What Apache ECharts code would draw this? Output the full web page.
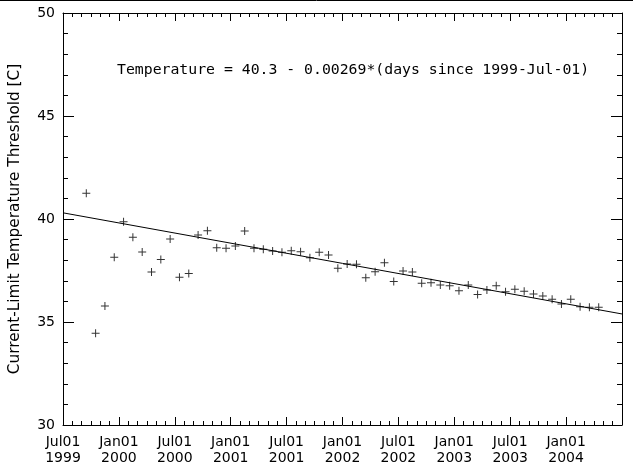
<!DOCTYPE html>
<html><head><meta charset="utf-8">
<script src="https://cdn.jsdelivr.net/npm/echarts@6/dist/echarts.min.js"></script>
<style>html,body{margin:0;padding:0;background:#fff}#c{width:633px;height:473px}</style>
</head><body><div id="c"></div>
<script>
// Monthly samples (mid-month)
const months = [
 '1999-09','1999-10','1999-11','1999-12',
 '2000-01','2000-02','2000-03','2000-04','2000-05','2000-06','2000-07','2000-08','2000-09','2000-10','2000-11','2000-12',
 '2001-01','2001-02','2001-03','2001-04','2001-05','2001-06','2001-07','2001-08','2001-09','2001-10','2001-11','2001-12',
 '2002-01','2002-02','2002-03','2002-04','2002-05','2002-06','2002-07','2002-08','2002-09','2002-10','2002-11','2002-12',
 '2003-01','2003-02','2003-03','2003-04','2003-05','2003-06','2003-07','2003-08','2003-09','2003-10','2003-11','2003-12',
 '2004-01','2004-02','2004-03','2004-04'
];
const temps = [
 41.25,34.45,35.78,38.14,
 39.87,39.11,38.40,37.43,38.04,39.03,37.17,37.36,39.22,39.43,38.61,38.58,
 38.69,39.42,38.58,38.53,38.45,38.38,38.46,38.41,38.12,38.38,38.25,37.61,
 37.82,37.80,37.15,37.44,37.88,36.96,37.48,37.43,36.88,36.91,36.80,36.76,
 36.52,36.80,36.34,36.55,36.76,36.47,36.59,36.49,36.36,36.26,36.10,35.87,
 36.10,35.74,35.71,35.71
];
// Fit line end points (axis start 1999-Jul-01 and end 2004-Jul-01)
const fitMonths = ['1999-07-01','2004-07-01'];
const fitValues = [40.30, 35.39];
const xTickLabels = ['Jul01\n1999','Jan01\n2000','Jul01\n2000','Jan01\n2001','Jul01\n2001','Jan01\n2002','Jul01\n2002','Jan01\n2003','Jul01\n2003','Jan01\n2004'];
const yTicks = [30, 35, 40, 45, 50];
const yTitle = 'Current-Limit Temperature Threshold [C]';
const equation = 'Temperature = 40.3 - 0.00269*(days since 1999-Jul-01)';

function monthOffset(s, mid) {
  const p = s.split('-').map(Number);
  const base = (p[0] - 1999) * 12 + (p[1] - 7);
  return mid ? base + 0.5 : base + (p[2] - 1) / 30.44;
}
const scatterData = months.map((m, i) => [monthOffset(m, true), temps[i]]);
const fitData = fitMonths.map((m, i) => [monthOffset(m, false), fitValues[i]]);

const FONT = 'DejaVu Sans';
const plus = 'path://M3.5,0H4.5V3.5H8V4.5H4.5V8H3.5V4.5H0V3.5H3.5Z';
const axisBase = {
  axisLine: {show: true, onZero: false, lineStyle: {color: '#000', width: 1}},
  splitLine: {show: false}, minorSplitLine: {show: false}
};
const chart = echarts.init(document.getElementById('c'), null, {renderer: 'canvas'});
chart.setOption({
  animation: false,
  backgroundColor: '#fff',
  grid: {left: 62, right: 11, top: 13, bottom: 48, containLabel: false},
  xAxis: [
    Object.assign({}, axisBase, {
      type: 'value', position: 'bottom', min: 0, max: 60, interval: 6,
      axisTick: {show: true, inside: true, length: 8, lineStyle: {color: '#000'}},
      minorTick: {show: true, splitNumber: 6, length: 4, lineStyle: {color: '#000'}},
      axisLabel: {show: true, margin: 9, color: '#000', fontFamily: FONT, fontSize: 14, lineHeight: 16,
        showMaxLabel: false, showMinLabel: true,
        formatter: v => { const k = Math.round(v / 6); return xTickLabels[k] !== undefined ? xTickLabels[k] : ''; }}
    }),
    Object.assign({}, axisBase, {
      type: 'value', position: 'top', min: 0, max: 60, interval: 6,
      axisTick: {show: true, inside: true, length: 8, lineStyle: {color: '#000'}},
      minorTick: {show: true, splitNumber: 6, length: 4, lineStyle: {color: '#000'}},
      axisLabel: {show: false}
    })
  ],
  yAxis: [
    Object.assign({}, axisBase, {
      type: 'value', position: 'left', min: yTicks[0], max: yTicks[yTicks.length - 1], interval: 5,
      axisTick: {show: true, inside: true, length: 11, lineStyle: {color: '#000'}},
      minorTick: {show: true, splitNumber: 5, length: 5, lineStyle: {color: '#000'}},
      axisLabel: {show: true, margin: 8, color: '#000', fontFamily: FONT, fontSize: 14},
      name: yTitle, nameLocation: 'middle', nameGap: 40, nameRotate: 90,
      nameTextStyle: {color: '#000', fontFamily: FONT, fontSize: 15.3}
    }),
    Object.assign({}, axisBase, {
      type: 'value', position: 'right', min: yTicks[0], max: yTicks[yTicks.length - 1], interval: 5,
      axisTick: {show: true, inside: true, length: 11, lineStyle: {color: '#000'}},
      minorTick: {show: true, splitNumber: 5, length: 5, lineStyle: {color: '#000'}},
      axisLabel: {show: false}
    })
  ],
  series: [
    {type: 'scatter', data: scatterData, symbol: plus, symbolSize: 8,
     itemStyle: {color: '#000'}, silent: true},
    {type: 'line', data: fitData, showSymbol: false, symbol: 'none',
     lineStyle: {color: '#000', width: 1}, silent: true}
  ],
  graphic: [
    {type: 'line', shape: {x1: 0, y1: 0.5, x2: 633, y2: 0.5}, style: {stroke: '#000', lineWidth: 1}},
    {type: 'text', left: 117, top: 63, style: {text: equation, fill: '#000', font: '14.8px "DejaVu Sans Mono"'}}
  ]
});
</script></body></html>
